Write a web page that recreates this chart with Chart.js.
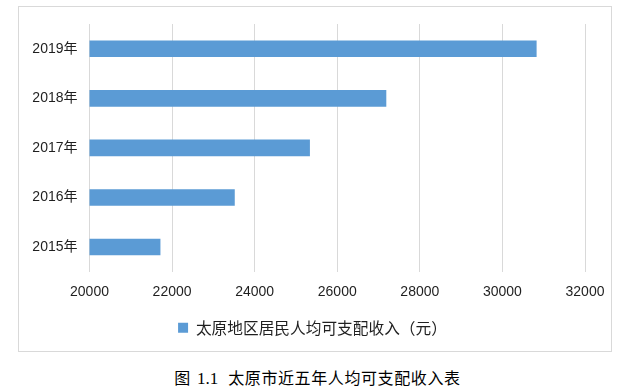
<!DOCTYPE html>
<html>
<head>
<meta charset="utf-8">
<script src="https://cdn.jsdelivr.net/npm/chart.js@4/dist/chart.umd.min.js"></script>
<style>
  html, body { margin: 0; padding: 0; background: #fff; }
  body { width: 635px; height: 390px; position: relative; overflow: hidden; }
  #box {
    position: absolute; left: 18px; top: 6px; width: 594px; height: 346px;
    border: 1px solid #d9d9d9; box-sizing: border-box;
  }
  #box canvas { display: block; }
  #caption {
    position: absolute; left: 0; width: 635px; top: 365px; text-align: center;
    font-family: "Noto Sans CJK SC", sans-serif; font-size: 16px; color: #000;
    line-height: 24px; letter-spacing: 0.6px; white-space: nowrap;
  }
  #caption .num { font-family: "Liberation Serif", serif; font-size: 17px; letter-spacing: 0; margin: 0 10px 0 6px; }
</style>
</head>
<body>
<div id="box"><canvas id="chart" width="592" height="344"></canvas></div>
<div id="caption">图<span class="num">1.1</span>太原市近五年人均可支配收入表</div>
<script>
// Data
var years = ['2015年', '2016年', '2017年', '2018年', '2019年'];
var income = [21710, 23510, 25330, 27180, 30820];
var seriesName = '太原地区居民人均可支配收入（元）';

var axisMin = 20000;
var axisMax = 32000;
var axisStep = 2000;

var textColor = '#1f1f1f';
var gridColor = '#d9d9d9';
var barColor = '#5b9bd5';
var latinFont = '"Liberation Sans", "Noto Sans CJK SC", sans-serif';

// nudge the legend a little to the right, like the original
var legendShift = {
  id: 'legendShift',
  afterLayout: function(chart) {
    chart.legend.left += 10.5;
    chart.legend.right += 10.5;
  }
};

new Chart(document.getElementById('chart'), {
  type: 'bar',
  data: {
    labels: years,
    datasets: [{
      label: seriesName,
      data: income,
      backgroundColor: barColor,
      borderWidth: 0,
      barThickness: 16
    }]
  },
  options: {
    indexAxis: 'y',
    responsive: false,
    animation: false,
    layout: { padding: { top: 17, right: 26, left: 0, bottom: 5.5 } },
    plugins: {
      legend: {
        position: 'bottom',
        labels: {
          boxWidth: 10,
          boxHeight: 10,
          padding: 10,
          color: textColor,
          font: { family: '"Noto Sans CJK SC", sans-serif', size: 15.7 }
        }
      },
      tooltip: { enabled: false }
    },
    scales: {
      x: {
        min: axisMin,
        max: axisMax,
        ticks: {
          stepSize: axisStep,
          padding: 12,
          color: textColor,
          font: { family: latinFont, size: 14 },
          callback: function(v) { return String(v); }
        },
        grid: { color: gridColor, drawTicks: false },
        border: { display: false },
        afterFit: function(scale) {
          scale.height = 38;
          scale.paddingLeft = 0;
          scale.paddingRight = 0;
        }
      },
      y: {
        reverse: true,
        ticks: {
          padding: 12,
          color: textColor,
          font: { family: latinFont, size: 14 }
        },
        grid: { display: false, drawTicks: false },
        border: { display: false },
        afterFit: function(scale) {
          scale.width = 70.5;
          scale.paddingTop = 0;
          scale.paddingBottom = 0;
        }
      }
    }
  },
  plugins: [legendShift]
});
</script>
</body>
</html>
